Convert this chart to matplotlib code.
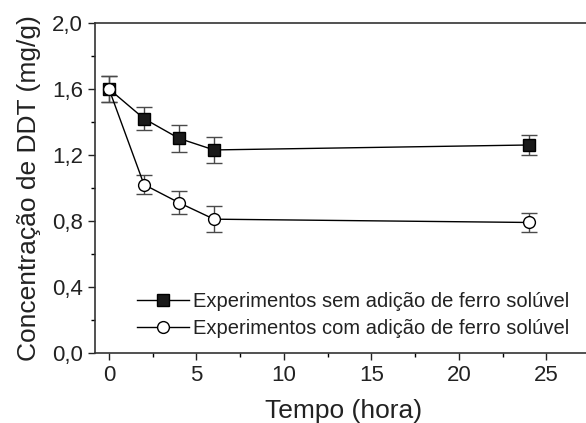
import matplotlib
matplotlib.use("Agg")
import matplotlib.pyplot as plt
from matplotlib.lines import Line2D
from matplotlib.ticker import MultipleLocator, FuncFormatter

plt.rcParams['font.family'] = ['Liberation Sans', 'DejaVu Sans']

time_h = [0, 2, 4, 6, 24]
sem_ferro = [1.60, 1.42, 1.30, 1.23, 1.26]
sem_ferro_err = [0.08, 0.07, 0.08, 0.08, 0.06]
com_ferro = [1.60, 1.02, 0.91, 0.81, 0.79]
com_ferro_err = [0.08, 0.06, 0.07, 0.08, 0.06]
labels = ["Experimentos sem adição de ferro solúvel",
          "Experimentos com adição de ferro solúvel"]

fig = plt.figure(figsize=(5.86, 4.23), dpi=100)
ax = fig.add_axes([95/586, (423-352.7)/423, (586-95)/586 + 0.01, (352.7-23)/423])

ax.errorbar(time_h, sem_ferro, yerr=sem_ferro_err, fmt='-s', color='black',
            mfc='#1a1a1a', mec='black', ms=8, lw=1, ecolor='#4a4a4a',
            elinewidth=1, capsize=5.5, capthick=1, zorder=2)
ax.errorbar(time_h, com_ferro, yerr=com_ferro_err, fmt='-o', color='black',
            mfc='white', mec='black', ms=8.5, lw=1, mew=1, ecolor='#4a4a4a',
            elinewidth=1, capsize=5.5, capthick=1, zorder=3)

ax.set_xlim(-0.8, 27.6)
ax.set_ylim(0, 2.0)
ax.xaxis.set_major_locator(MultipleLocator(5))
ax.xaxis.set_minor_locator(MultipleLocator(2.5))
ax.yaxis.set_major_locator(MultipleLocator(0.4))
ax.yaxis.set_minor_locator(MultipleLocator(0.2))
ax.yaxis.set_major_formatter(FuncFormatter(lambda v, p: f"{v:.1f}".replace('.', ',')))
ax.tick_params(which='major', length=5, width=1, labelsize=16, colors='#222222')
ax.tick_params(which='minor', length=3, width=1)
ax.spines['right'].set_visible(False)
for s in ['left', 'top', 'bottom']:
    ax.spines[s].set_linewidth(1.2)
    ax.spines[s].set_color('#333333')

ax.set_xlabel("Tempo (hora)", fontsize=19, color='#222222', labelpad=10)
ax.set_ylabel("Concentração de DDT (mg/g)", fontsize=19, color='#222222', labelpad=8)

h1 = Line2D([], [], color='black', lw=1, marker='s', mfc='#1a1a1a', mec='black', ms=8)
h2 = Line2D([], [], color='black', lw=1, marker='o', mfc='white', mec='black', ms=8.5)
leg = fig.legend([h1, h2], labels, loc='upper left',
                 bbox_to_anchor=(137/586, 1 - 292/423), bbox_transform=fig.transFigure,
                 frameon=False, fontsize=14.5, handlelength=2.6,
                 handletextpad=0.17, labelspacing=0.4, borderpad=0, borderaxespad=0)
for t in leg.get_texts():
    t.set_color('#222222')

fig.savefig("out.png", dpi=100)
